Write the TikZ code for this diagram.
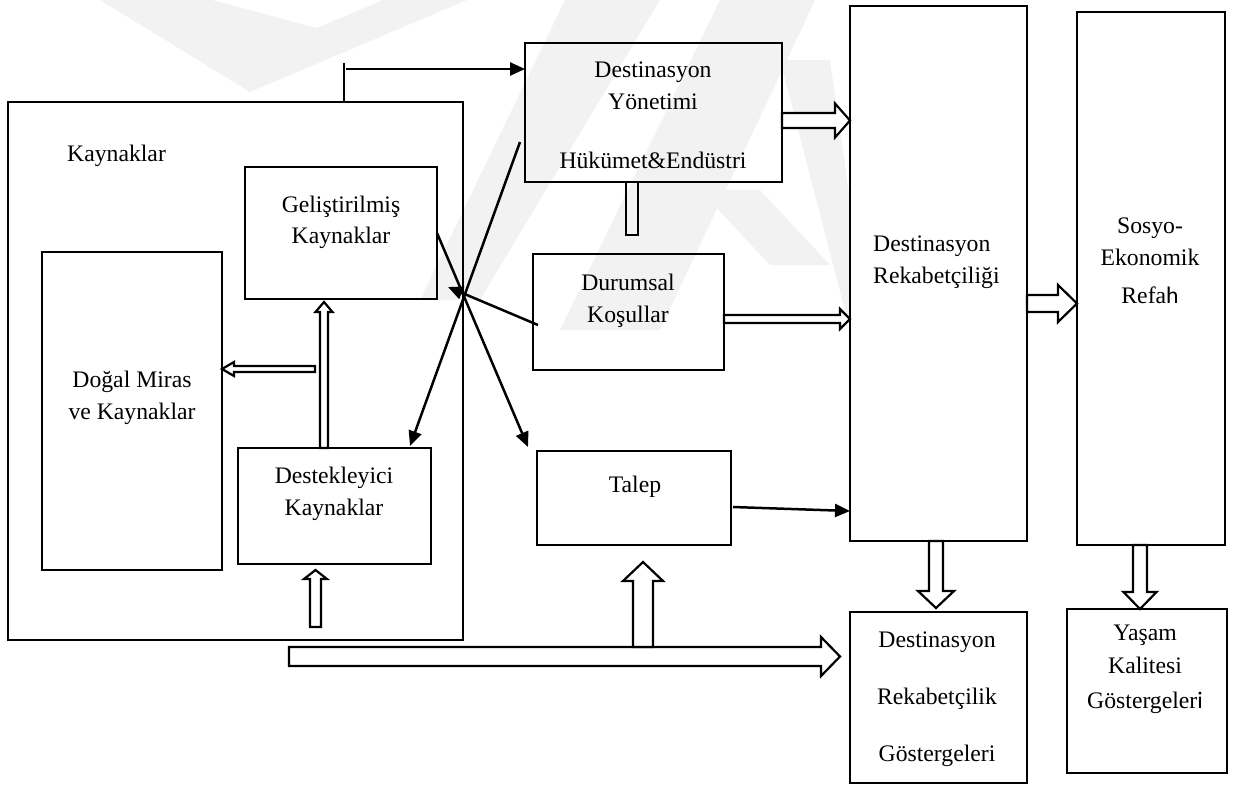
\documentclass[tikz,border=0pt]{standalone}
\usepackage{fontspec}
\setmainfont{Liberation Serif}
\newfontfamily\calib{Carlito}
\usetikzlibrary{calc,arrows.meta}

\tikzset{
  box/.style={draw, line width=2.6pt, rectangle, inner sep=0pt, outer sep=0pt},
  lbl/.style={inner sep=0pt, anchor=base, font=\fontsize{23.7}{32}\selectfont},
  conn/.style={line width=2.5pt, -{Triangle[length=15pt,width=13pt]}},
  plainline/.style={line width=2.5pt},
  blk/.style={draw, fill=white, line width=2.2pt, line join=miter},
  wm/.style={fill=black!5, draw=none},
}

% hollow block arrow: #1 tail, #2 tip, #3 shaft half-width, #4 head half-width, #5 head length
\newcommand\blockarrow[5]{%
  \coordinate (bac) at ($(#2)!#5pt!(#1)$);
  \draw[blk] ($(#1)!#3pt!90:(#2)$) -- ($(bac)!#3pt!90:(#2)$) -- ($(bac)!#4pt!90:(#2)$)
    -- (#2) -- ($(bac)!#4pt!-90:(#2)$) -- ($(bac)!#3pt!-90:(#2)$) -- ($(#1)!#3pt!-90:(#2)$) -- cycle;}

\begin{document}
\begin{tikzpicture}[x=1pt,y=1pt]
\useasboundingbox (0,0) rectangle (1246,-790);

% faint background logo
\fill[wm] (100,0) -- (212,0) -- (317,-28) -- (383,0) -- (467,0) -- (250,-92) -- cycle;
\fill[wm] (565,0) -- (660,0) -- (480,-300) -- (420,-300) -- cycle;
\fill[wm] (720,0) -- (815,0) -- (660,-330) -- (560,-330) -- cycle;
\fill[wm] (780,-60) -- (830,-60) -- (850,-200) -- (850,-330) -- cycle;
\fill[wm] (700,-190) -- (760,-190) -- (830,-265) -- (770,-265) -- cycle;

% boxes
\node[box, minimum width=455pt, minimum height=538pt] (kay)  at (235.5,-371) {};
\node[box, minimum width=257pt, minimum height=139pt] (dy)   at (653.5,-112.5) {};
\node[box, minimum width=177pt, minimum height=535pt] (dr)   at (938.5,-273.5) {};
\node[box, minimum width=148pt, minimum height=533pt] (se)   at (1151,-278.5) {};
\node[box, minimum width=191pt, minimum height=116pt] (dur)  at (628.5,-312) {};
\node[box, minimum width=194pt, minimum height=94pt]  (tal)  at (634,-498) {};
\node[box, minimum width=177pt, minimum height=171pt] (drg)  at (938.5,-697.5) {};
\node[box, minimum width=160pt, minimum height=164pt] (yq)   at (1147,-691) {};
\node[box, minimum width=192pt, minimum height=132pt] (gel)  at (341,-233) {};
\node[box, minimum width=193pt, minimum height=116pt] (dest) at (334.5,-506) {};
\node[box, minimum width=180pt, minimum height=318pt] (dog)  at (132,-411) {};

% labels
\node[lbl, anchor=base west] (tkay) at (67,-161) {Kaynaklar};
\node[lbl] (tdy1) at (653,-77)  {Destinasyon};
\node[lbl] (tdy2) at (653,-109) {Yönetimi};
\node[lbl] (tdy3) at (653,-168) {Hükümet\&Endüstri};
\node[lbl, anchor=base west] (tdr1) at (873,-251) {Destinasyon};
\node[lbl, anchor=base west] (tdr2) at (873,-283) {Rekabetçiliği};
\node[lbl] (tse1) at (1150,-233) {Sosyo-};
\node[lbl] (tse2) at (1150,-265) {Ekonomik};
\node[lbl] (tse3) at (1150,-303) {Refa{\calib h}};
\node[lbl] (tdu1) at (628,-290) {Durumsal};
\node[lbl] (tdu2) at (628,-322) {Koşullar};
\node[lbl] (ttal) at (635,-492) {Talep};
\node[lbl] (tdg1) at (937,-647) {Destinasyon};
\node[lbl] (tdg2) at (937,-704) {Rekabetçilik};
\node[lbl] (tdg3) at (937,-761) {Göstergeleri};
\node[lbl] (tyq1) at (1145,-640) {Yaşam};
\node[lbl] (tyq2) at (1145,-673) {Kalitesi};
\node[lbl] (tyq3) at (1145,-708) {Göstergeler{\calib i}};
\node[lbl] (tgl1) at (341,-212) {Geliştirilmiş};
\node[lbl] (tgl2) at (341,-243) {Kaynaklar};
\node[lbl] (tds1) at (334,-483) {Destekleyici};
\node[lbl] (tds2) at (334,-515) {Kaynaklar};
\node[lbl] (tdo1) at (132,-387) {Doğal Miras};
\node[lbl] (tdo2) at (132,-419) {ve Kaynaklar};

% thin connectors
\coordinate (kt) at ($(kay.north west)+(336,0)$);
\draw[plainline] (kt) -- ++(0,39);
\coordinate (ktr) at ($(kt)+(2,33)$);
\draw[conn] (ktr) -- (ktr -| dy.west);
\coordinate (hub) at ($(kay.east)+(-15,84)$);
\draw[conn] (gel.east) -- ($(tal.north west)+(-9,4)$);
\draw[conn] ($(dy.west)+(-5,-29.5)$) -- ($(dest.north east)+(-21,2)$);
\draw[conn] ($(dur.west)+(5,-13)$) -- (hub);
\draw[conn] ($(tal.east)+(2,-9)$) -- ($(dr.south west)+(0,30)$);

% bar under the management box
\draw[line width=2.2pt] ($(dy.south)+(-27.5,0)$) -- ++(0,-53) -- ++(12,0) -- ++(0,53);

% hollow block arrows
\coordinate (a1) at ($(dy.east)+(0,-8)$);
\blockarrow{a1}{a1 -| dr.west}{7.5}{17}{15}
\coordinate (a2) at ($(dur.east)+(0,-7)$);
\blockarrow{a2}{a2 -| dr.west}{4}{10}{10}
\coordinate (a3) at ($(dr.east)+(0,-30)$);
\blockarrow{a3}{a3 -| se.west}{8.5}{18.5}{19}
\coordinate (a4) at ($(dr.south)+(-2.5,0)$);
\coordinate (a4t) at ($(a4 |- drg.north)+(0,4)$);
\blockarrow{a4}{a4t}{7}{18}{17}
\coordinate (a5) at ($(se.south)+(-11,0)$);
\blockarrow{a5}{a5 |- yq.north}{7}{16.5}{17}
\coordinate (a6) at ($(kay.south west)+(281,-16.5)$);
\coordinate (a6t) at ($(a6 -| drg.west)+(-10,0)$);
\blockarrow{a6}{a6t}{9.5}{19.5}{19}
\coordinate (a7) at ($(tal.south)+(9,-102)$);
\coordinate (a7t) at ($(tal.south)+(9,-17)$);
\blockarrow{a7}{a7t}{10}{20}{19}
\coordinate (a8) at ($(dest.south)+(-19,-63)$);
\coordinate (a8t) at ($(dest.south)+(-19,-6)$);
\blockarrow{a8}{a8t}{5.5}{11.5}{9}
\coordinate (a9) at ($(dest.north)+(-10.5,0)$);
\coordinate (a9t) at ($(gel.south)+(-17,-3)$);
\blockarrow{a9}{a9t}{4}{8.5}{10}
\coordinate (a10) at ($(dog.east)+(93,42)$);
\blockarrow{a10}{a10 -| dog.east}{3}{7}{12}
\end{tikzpicture}
\end{document}
